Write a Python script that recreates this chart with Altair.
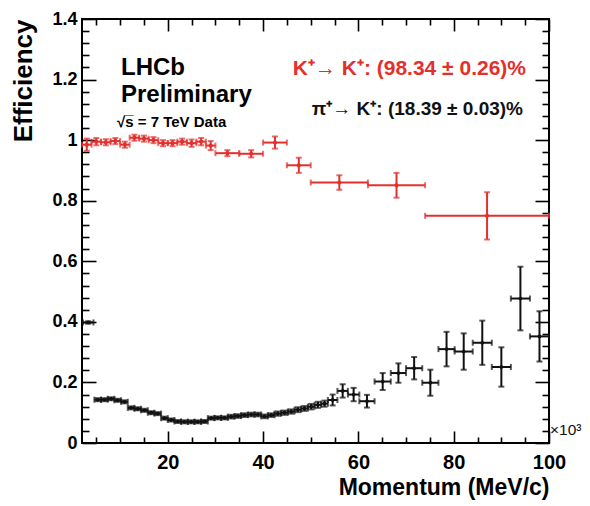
import altair as alt
import pandas as pd

# ---------------- data ----------------
red_x = [3, 5, 7, 9, 11, 13, 15, 17, 19, 21, 23, 25, 27, 29, 32.5, 37.5, 42.5, 47.5, 56, 68, 87]
red_xerr = [1, 1, 1, 1, 1, 1, 1, 1, 1, 1, 1, 1, 1, 1, 2.5, 2.5, 2.5, 2.5, 6, 6, 13]
red_y = [0.985, 0.995, 0.993, 0.997, 0.985, 1.008, 1.005, 1.0, 0.99, 0.99, 0.995, 0.99, 0.995, 0.982,
         0.957, 0.955, 0.992, 0.917, 0.860, 0.851, 0.750]
red_yerr = [0.02, 0.012, 0.01, 0.01, 0.01, 0.01, 0.01, 0.01, 0.01, 0.01, 0.01, 0.012, 0.012, 0.015,
            0.01, 0.012, 0.02, 0.025, 0.024, 0.041, 0.078]

blk_x = [3.3, 5.3, 6.7, 8.1, 9.5, 10.9, 12.3, 13.7, 15.1, 16.5, 17.9, 19.3, 20.7, 22.1, 23.5, 24.9,
         26.3, 27.7, 29.1, 30.5, 31.9, 33.3, 34.7, 36.1, 37.5, 38.9, 40.3, 41.7, 43.1, 44.5, 45.9,
         47.3, 48.7, 50.1, 51.5, 52.9, 54.6, 56.7, 59.0, 61.8, 65.1, 68.4, 71.7, 75.1, 78.5, 82.1,
         86, 90, 94, 98]
blk_xerr = [1.1, 0.7, 0.7, 0.7, 0.7, 0.7, 0.7, 0.7, 0.7, 0.7, 0.7, 0.7, 0.7, 0.7, 0.7, 0.7,
            0.7, 0.7, 0.7, 0.7, 0.7, 0.7, 0.7, 0.7, 0.7, 0.7, 0.7, 0.7, 0.7, 0.7, 0.7,
            0.7, 0.7, 0.7, 0.7, 0.7, 1.0, 1.1, 1.2, 1.6, 1.7, 1.6, 1.7, 1.7, 1.7, 1.9,
            2, 2, 2, 2]
blk_y = [0.398, 0.143, 0.143, 0.146, 0.141, 0.136, 0.116, 0.113, 0.108, 0.100, 0.097, 0.082,
         0.076, 0.071, 0.070, 0.070, 0.070, 0.071, 0.082, 0.083, 0.083, 0.087, 0.089, 0.092,
         0.094, 0.094, 0.088, 0.092, 0.097, 0.100, 0.104, 0.110, 0.114, 0.120, 0.126, 0.130,
         0.142, 0.172, 0.160, 0.138, 0.203, 0.231, 0.247, 0.199, 0.310, 0.302, 0.331, 0.251,
         0.477, 0.352]
blk_yerr = [0.004, 0.005, 0.005, 0.005, 0.005, 0.005, 0.005, 0.005, 0.005, 0.005, 0.005, 0.005,
            0.005, 0.005, 0.005, 0.005, 0.005, 0.005, 0.005, 0.005, 0.005, 0.006, 0.006, 0.006,
            0.006, 0.006, 0.006, 0.006, 0.007, 0.007, 0.007, 0.008, 0.008, 0.009, 0.010, 0.010,
            0.018, 0.022, 0.022, 0.021, 0.028, 0.032, 0.037, 0.043, 0.057, 0.060, 0.073, 0.065,
            0.105, 0.083]

x_major = [20, 40, 60, 80, 100]
x_minor = [5, 10, 15, 25, 30, 35, 45, 50, 55, 65, 70, 75, 85, 90, 95]
y_major = [0, 0.2, 0.4, 0.6, 0.8, 1.0, 1.2, 1.4]
y_minor = [0.04, 0.08, 0.12, 0.16, 0.24, 0.28, 0.32, 0.36, 0.44, 0.48, 0.52, 0.56,
           0.64, 0.68, 0.72, 0.76, 0.84, 0.88, 0.92, 0.96, 1.04, 1.08, 1.12, 1.16,
           1.24, 1.28, 1.32, 1.36]

# ---------------- layout / style ----------------
W, H = 467, 424
FONT = "Liberation Sans, Arial, Helvetica, sans-serif"
RED = "#e3302d"
BLK = "#111111"


def frame(xs, xe, ys, ye):
    return pd.DataFrame({
        "x": xs, "y": ys,
        "xlo": [a - b for a, b in zip(xs, xe)], "xhi": [a + b for a, b in zip(xs, xe)],
        "ylo": [a - b for a, b in zip(ys, ye)], "yhi": [a + b for a, b in zip(ys, ye)],
    })


red_df = frame(red_x, red_xerr, red_y, red_yerr)
blk_df = frame(blk_x, blk_xerr, blk_y, blk_yerr)

xs = alt.Scale(domain=[2, 100], nice=False, zero=False)
ys = alt.Scale(domain=[0, 1.4], nice=False, zero=False)


def tick_axis(orient, values, size, offset):
    return alt.Axis(orient=orient, values=values, tickSize=size, ticks=True, tickWidth=1.6,
                    tickColor="black", labels=False, domain=False, grid=False,
                    offset=offset, title=None)


x_axes = [
    alt.Axis(orient="bottom", values=x_major, ticks=False, tickSize=0, domain=False, grid=False,
             labelFont=FONT, labelFontSize=20, labelFontWeight="bold", labelColor="black",
             labelPadding=9, labelFlush=False, labelOverlap=False, format="d",
             title="Momentum (MeV/c)", titleFont=FONT, titleFontSize=23, titleFontWeight="bold",
             titleColor="black", titleX=W, titleY=51, titleAlign="right",
             titleBaseline="alphabetic", titleAngle=0),
    tick_axis("top", x_major, 12, -H),
    tick_axis("top", x_minor, 6, -H),
    tick_axis("bottom", x_major, 12, -H),
    tick_axis("bottom", x_minor, 6, -H),
]
y_axes = [
    alt.Axis(orient="left", values=y_major, ticks=False, tickSize=0, domain=False, grid=False,
             labelFont=FONT, labelFontSize=18, labelFontWeight="bold", labelColor="black",
             labelPadding=5, labelFlush=False, labelOverlap=False, format="~g",
             title="Efficiency", titleFont=FONT, titleFontSize=26, titleFontWeight="bold",
             titleColor="black", titleX=-51, titleY=0, titleAngle=270, titleAlign="right",
             titleBaseline="alphabetic"),
    tick_axis("right", y_major, 14, -W),
    tick_axis("right", y_minor, 7, -W),
    tick_axis("left", y_major, 14, -W),
    tick_axis("left", y_minor, 7, -W),
]


def series(df, color, shape, psize, k0):
    def ax_x(i):
        return x_axes[i] if i < len(x_axes) else None

    def ax_y(i):
        return y_axes[i] if i < len(y_axes) else None

    base = alt.Chart(df)
    hbar = base.mark_rule(color=color, strokeWidth=2).encode(
        x=alt.X("xlo:Q", scale=xs, axis=ax_x(k0)), x2="xhi:Q",
        y=alt.Y("y:Q", scale=ys, axis=ax_y(k0)))
    vbar = base.mark_rule(color=color, strokeWidth=2).encode(
        x=alt.X("x:Q", scale=xs, axis=ax_x(k0 + 1)),
        y=alt.Y("ylo:Q", scale=ys, axis=ax_y(k0 + 1)), y2="yhi:Q")
    vcap = base.transform_fold(["xlo", "xhi"], as_=["k", "xe"]).mark_tick(
        color=color, orient="vertical", size=6, thickness=2).encode(
        x=alt.X("xe:Q", scale=xs, axis=ax_x(k0 + 2)),
        y=alt.Y("y:Q", scale=ys, axis=ax_y(k0 + 2)))
    hcap = base.transform_fold(["ylo", "yhi"], as_=["k", "ye"]).mark_tick(
        color=color, orient="horizontal", size=6, thickness=2).encode(
        x=alt.X("x:Q", scale=xs, axis=ax_x(k0 + 3)),
        y=alt.Y("ye:Q", scale=ys, axis=ax_y(k0 + 3)))
    pts = base.mark_point(shape=shape, filled=True, size=psize, color=color, opacity=1).encode(
        x=alt.X("x:Q", scale=xs, axis=ax_x(k0 + 4)),
        y=alt.Y("y:Q", scale=ys, axis=ax_y(k0 + 4)))
    return [hbar, vbar, vcap, hcap, pts]


def label(text, x, y, size, color="black", align="left", weight="bold"):
    return alt.Chart(pd.DataFrame({"t": [text]})).mark_text(
        font=FONT, fontSize=size, fontWeight=weight, color=color, align=align,
        baseline="alphabetic").encode(text="t:N", x=alt.value(x), y=alt.value(y))


texts = [
    label("LHCb", 39, 56, 24),
    label("Preliminary", 39, 83, 24),
    label("\u221as\u0305 = 7 TeV Data", 35, 108, 15),
    label("K\u207a\u2192 K\u207a: (98.34 \u00b1 0.26)%", 444, 56, 21, RED, "right"),
    label("\u03c0\u207a\u2192 K\u207a: (18.39 \u00b1 0.03)%", 441, 96, 19, BLK, "right"),
    label("\u00d710\u00b3", W + 1, 416, 15.5, BLK, "left", "normal"),
]

layers = series(blk_df, BLK, "circle", 14, 0) + series(red_df, RED, "circle", 18, 5) + texts

chart = alt.layer(*layers).resolve_axis(x="independent", y="independent").properties(
    width=W, height=H,
    autosize=alt.AutoSizeParams(type="none"),
    padding={"left": 74, "top": 11, "right": 33, "bottom": 57},
    background="white",
).configure_view(stroke="black", strokeWidth=2)

chart.save("out.html", embed_options={"renderer": "svg", "actions": False})
